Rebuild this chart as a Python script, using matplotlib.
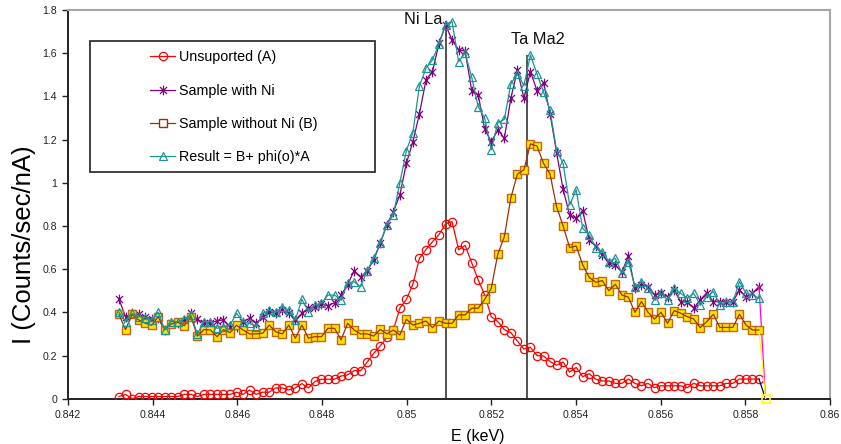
import matplotlib
matplotlib.use("Agg")
import matplotlib.pyplot as plt
from matplotlib.path import Path
from matplotlib.patches import Rectangle
from matplotlib.ticker import MultipleLocator, FuncFormatter

plt.rcParams['font.family'] = ['Liberation Sans', 'DejaVu Sans']

# Energy channels (keV); the last channel closes every trace at zero
energy = [0.843205, 0.843359, 0.843514, 0.843668, 0.843822, 0.843976, 0.844131, 0.844285, 0.844439, 0.844593,
          0.844748, 0.844902, 0.845056, 0.845211, 0.845365, 0.845519, 0.845673, 0.845828, 0.845982, 0.846136,
          0.846290, 0.846445, 0.846599, 0.846753, 0.846907, 0.847062, 0.847216, 0.847370, 0.847525, 0.847679,
          0.847833, 0.847987, 0.848142, 0.848296, 0.848450, 0.848604, 0.848759, 0.848913, 0.849067, 0.849222,
          0.849376, 0.849530, 0.849684, 0.849839, 0.849993, 0.850147, 0.850301, 0.850456, 0.850610, 0.850764,
          0.850919, 0.851073, 0.851227, 0.851381, 0.851536, 0.851690, 0.851844, 0.851998, 0.852153, 0.852307,
          0.852461, 0.852615, 0.852770, 0.852924, 0.853078, 0.853233, 0.853387, 0.853541, 0.853695, 0.853850,
          0.854004, 0.854158, 0.854312, 0.854467, 0.854621, 0.854775, 0.854930, 0.855084, 0.855238, 0.855392,
          0.855547, 0.855701, 0.855855, 0.856009, 0.856164, 0.856318, 0.856472, 0.856626, 0.856781, 0.856935,
          0.857089, 0.857244, 0.857398, 0.857552, 0.857706, 0.857861, 0.858015, 0.858169, 0.858323, 0.858478]

unsupported_a = [0.01, 0.02, 0.0, 0.01, 0.01, 0.01, 0.01, 0.01, 0.01, 0.01,
                 0.02, 0.02, 0.01, 0.02, 0.02, 0.02, 0.02, 0.02, 0.03, 0.02,
                 0.04, 0.02, 0.03, 0.03, 0.05, 0.05, 0.04, 0.05, 0.07, 0.05,
                 0.08, 0.09, 0.09, 0.09, 0.105, 0.11, 0.13, 0.13, 0.17, 0.21,
                 0.244, 0.284, 0.318, 0.419, 0.46, 0.53, 0.65, 0.69, 0.727, 0.76,
                 0.81, 0.82, 0.69, 0.71, 0.63, 0.55, 0.48, 0.38, 0.357, 0.32,
                 0.306, 0.267, 0.23, 0.238, 0.2, 0.198, 0.172, 0.155, 0.17, 0.123,
                 0.145, 0.102, 0.116, 0.09, 0.082, 0.082, 0.071, 0.071, 0.091, 0.071,
                 0.06, 0.071, 0.051, 0.06, 0.06, 0.06, 0.06, 0.051, 0.071, 0.06,
                 0.06, 0.06, 0.06, 0.071, 0.071, 0.091, 0.091, 0.091, 0.091, 0.0]

sample_with_ni = [0.46, 0.38, 0.395, 0.39, 0.38, 0.369, 0.372, 0.318, 0.349, 0.352,
                  0.361, 0.395, 0.367, 0.352, 0.349, 0.361, 0.365, 0.334, 0.334, 0.357,
                  0.372, 0.349, 0.38, 0.403, 0.395, 0.41, 0.395, 0.365, 0.395, 0.419,
                  0.423, 0.439, 0.43, 0.445, 0.48, 0.527, 0.593, 0.562, 0.593, 0.642,
                  0.72, 0.805, 0.866, 0.943, 1.09, 1.19, 1.319, 1.476, 1.515, 1.646,
                  1.731, 1.661, 1.615, 1.61, 1.427, 1.407, 1.248, 1.19, 1.245, 1.206,
                  1.391, 1.522, 1.391, 1.515, 1.427, 1.464, 1.32, 1.14, 0.97, 0.851,
                  0.835, 0.871, 0.735, 0.707, 0.666, 0.63, 0.619, 0.588, 0.661, 0.511,
                  0.527, 0.519, 0.48, 0.488, 0.472, 0.503, 0.449, 0.449, 0.419, 0.457,
                  0.491, 0.449, 0.449, 0.449, 0.449, 0.503, 0.472, 0.488, 0.519, 0.0]

sample_without_ni_b = [0.39, 0.32, 0.39, 0.365, 0.35, 0.34, 0.38, 0.32, 0.346, 0.354,
                       0.338, 0.38, 0.29, 0.32, 0.318, 0.287, 0.32, 0.306, 0.34, 0.318,
                       0.3, 0.3, 0.303, 0.341, 0.31, 0.3, 0.341, 0.28, 0.341, 0.28,
                       0.287, 0.287, 0.326, 0.326, 0.272, 0.349, 0.318, 0.3, 0.3, 0.29,
                       0.321, 0.3, 0.318, 0.295, 0.368, 0.341, 0.349, 0.36, 0.329, 0.36,
                       0.349, 0.349, 0.388, 0.388, 0.419, 0.419, 0.46, 0.511, 0.67, 0.75,
                       0.93, 1.04, 1.06, 1.18, 1.17, 1.09, 1.04, 0.89, 0.8, 0.70,
                       0.707, 0.62, 0.562, 0.539, 0.547, 0.5, 0.53, 0.48, 0.47, 0.4,
                       0.45, 0.4, 0.369, 0.4, 0.349, 0.408, 0.396, 0.38, 0.369, 0.329,
                       0.357, 0.391, 0.33, 0.33, 0.33, 0.391, 0.341, 0.318, 0.318, 0.0]

result = [0.40, 0.357, 0.395, 0.38, 0.375, 0.365, 0.40, 0.318, 0.357, 0.357,
          0.37, 0.388, 0.30, 0.357, 0.357, 0.326, 0.334, 0.342, 0.395, 0.357,
          0.349, 0.334, 0.395, 0.41, 0.40, 0.426, 0.41, 0.365, 0.46, 0.403,
          0.434, 0.442, 0.48, 0.48, 0.457, 0.534, 0.542, 0.519, 0.593, 0.65,
          0.72, 0.805, 0.851, 1.0, 1.149, 1.232, 1.448, 1.53, 1.569, 1.643,
          1.731, 1.746, 1.561, 1.6, 1.489, 1.352, 1.299, 1.152, 1.278, 1.294,
          1.458, 1.504, 1.45, 1.592, 1.504, 1.42, 1.337, 1.149, 1.09, 0.897,
          0.967, 0.789, 0.758, 0.697, 0.681, 0.635, 0.65, 0.581, 0.635, 0.519,
          0.542, 0.511, 0.457, 0.488, 0.457, 0.511, 0.488, 0.465, 0.488, 0.434,
          0.472, 0.496, 0.434, 0.449, 0.449, 0.542, 0.488, 0.48, 0.465]

series_labels = ["Unsuported (A)", "Sample with Ni", "Sample without Ni (B)", "Result = B+ phi(o)*A"]

# Emission line positions (keV) and their names
line_energies = [0.85093, 0.852835]
line_tops = [1.751, 1.592]
line_names = ["Ni La", "Ta Ma2"]
name_positions = [(0.850386, 1.758), (0.853110, 1.662)]

# Excel-like star marker: an x crossed by a vertical bar
star = Path([(0, -1), (0, 1), (-0.72, -0.72), (0.72, 0.72), (-0.72, 0.72), (0.72, -0.72)],
            [Path.MOVETO, Path.LINETO, Path.MOVETO, Path.LINETO, Path.MOVETO, Path.LINETO])

fig = plt.figure(figsize=(8.41, 4.44), dpi=100)
ax = fig.add_axes([68 / 841, 1 - 398.7 / 444, 762 / 841, 388.7 / 444])

RED = '#FF0000'
PURPLE = '#800080'
BROWN = '#993300'
TEAL = '#1E9494'

n = len(energy) - 1
lw = 0.9

h_red, = ax.plot(energy[:n], unsupported_a[:n], color=RED, lw=lw, marker='o', ms=6,
                 mfc='none', mec=RED, mew=0.9, zorder=3)
ax.plot(energy[n - 1:], unsupported_a[n - 1:], color='#000080', lw=lw, zorder=3)

h_pur, = ax.plot(energy[:n], sample_with_ni[:n], color=PURPLE, lw=lw, marker=star, ms=7,
                 mec=PURPLE, mew=0.9, zorder=4)
ax.plot(energy[n - 1:], sample_with_ni[n - 1:], color='#FF00FF', lw=lw, zorder=4)

# squares under the brown trace so the line shows through them
ax.plot(energy[:n], sample_without_ni_b[:n], ls='none', marker='s', ms=5.2,
        mfc='#FFE300', mec='#C06A10', mew=1.0, zorder=5)
ax.plot(energy[:n], sample_without_ni_b[:n], color=BROWN, lw=lw, zorder=5.1)
ax.plot(energy[n - 1:], sample_without_ni_b[n - 1:], color='#FFFF00', lw=lw, zorder=5)
ax.plot(energy[n:], sample_without_ni_b[n:], ls='none', marker='s', ms=5.2,
        mfc='none', mec='#FFFF00', mew=1.2, zorder=6, clip_on=False)
h_brn, = ax.plot([], [], color=BROWN, lw=lw, marker='s', ms=5.2, mfc='white', mec=BROWN, mew=1.0)

h_teal, = ax.plot(energy[:len(result)], result, color=TEAL, lw=lw, marker='^', ms=6.2,
                  mfc='none', mec=TEAL, mew=0.9, zorder=6)

# emission line markers
ax.vlines(line_energies, 0, line_tops, color='#222222', lw=1.1, zorder=2)
for name, (xe, ye) in zip(line_names, name_positions):
    ax.text(xe, ye, name, ha='center', va='center', fontsize=11.8, color='#111111')

ax.set_xlim(0.842, 0.86)
ax.set_ylim(0, 1.8)
ax.xaxis.set_major_locator(MultipleLocator(0.002))
ax.yaxis.set_major_locator(MultipleLocator(0.2))
fmt = FuncFormatter(lambda v, p: f"{v:.3f}".rstrip('0').rstrip('.'))
ax.xaxis.set_major_formatter(fmt)
ax.yaxis.set_major_formatter(FuncFormatter(lambda v, p: f"{v:.1f}".rstrip('0').rstrip('.')))
ax.tick_params(direction='out', length=4, width=1, labelsize=7.6, colors='#222222', pad=4)

for side in ('left', 'bottom'):
    ax.spines[side].set_color('#222222')
    ax.spines[side].set_linewidth(1.4)
for side in ('top', 'right'):
    ax.spines[side].set_color('#A6A6A6')
    ax.spines[side].set_linewidth(1.5)

ax.set_xlabel("E (keV)", fontsize=11.5, va='center', ha='center')
ax.xaxis.set_label_coords((478 - 68) / 762, -(436 - 398.7) / 388.7)
ax.set_ylabel("I (Counts/sec/nA)", fontsize=18.5, va='center', ha='center')
ax.yaxis.set_label_coords((24 - 68) / 762, (398.7 - 245) / 388.7)

# legend entries with a separate square frame around them
leg = ax.legend([h_red, h_pur, h_brn, h_teal], series_labels, loc='upper left',
                bbox_to_anchor=(150 / 841, 1 - 50.5 / 444), bbox_transform=fig.transFigure,
                frameon=False, fontsize=10.3, borderpad=0, borderaxespad=0,
                handlelength=1.75, handletextpad=0.25, labelspacing=1.35)
fig.add_artist(Rectangle((90 / 841, 1 - 172 / 444), 285 / 841, 131 / 444,
                         transform=fig.transFigure, fill=False, ec='#333333', lw=1.3))

fig.savefig("out.png", dpi=100, facecolor='white')
